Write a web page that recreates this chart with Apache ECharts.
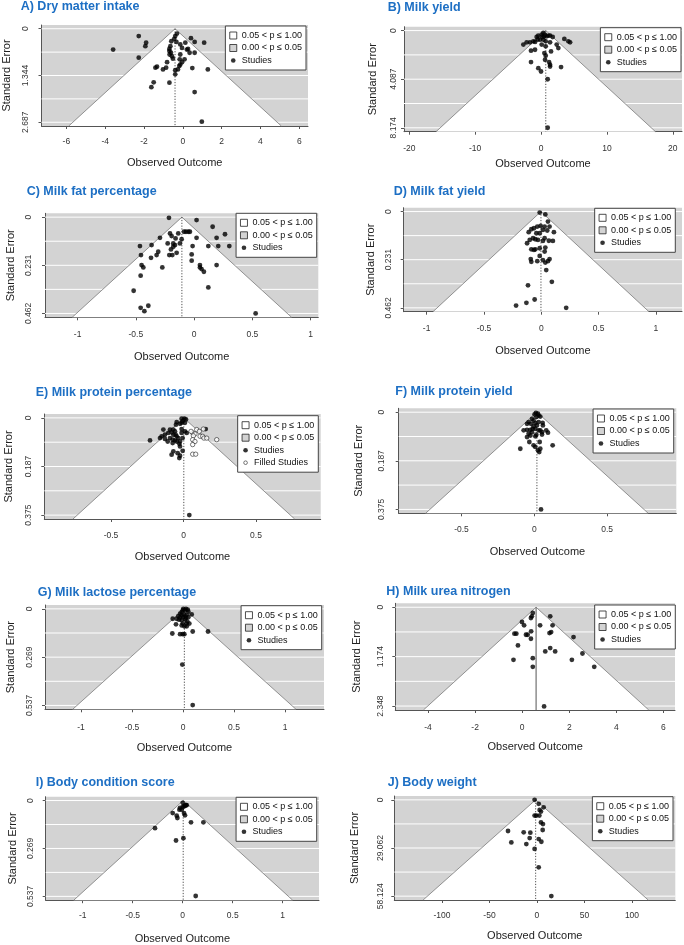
<!DOCTYPE html>
<html><head><meta charset="utf-8">
<script src="https://cdn.jsdelivr.net/npm/echarts@6/dist/echarts.min.js"></script>
<style>html,body{margin:0;padding:0;background:#fff}#c{width:684px;height:945px}</style>
</head><body><div id="c"></div>
<script>
// ---------- DATA ----------
const panelTitles = ['A) Dry matter intake','B) Milk yield','C) Milk fat percentage','D) Milk fat yield','E) Milk protein percentage','F) Milk protein yield','G) Milk lactose percentage','H) Milk urea nitrogen','I) Body condition score','J) Body weight'];
const pooledEstimates = [-0.40, 0.72, -0.105, -0.003, 0.002, 0.018, 0.013, 0.59, 0.005, -1.4];
const xTicks = [[-6,-4,-2,0,2,4,6],[-20,-10,0,10,20],[-1,-0.5,0,0.5,1],[-1,-0.5,0,0.5,1],[-0.5,0,0.5],[-0.5,0,0.5],[-1,-0.5,0,0.5,1],[-4,-2,0,2,4,6],[-1,-0.5,0,0.5,1],[-100,-50,0,50,100]];
const yTickValues = [[0,1.3435,2.687],[0,4.087,8.174],[0,0.231,0.462],[0,0.231,0.462],[0,0.1875,0.375],[0,0.1875,0.375],[0,0.2685,0.537],[0,1.174,2.348],[0,0.2685,0.537],[0,29.062,58.124]];
const yTickLabels = [['0','1.344','2.687'],['0','4.087','8.174'],['0','0.231','0.462'],['0','0.231','0.462'],['0','0.187','0.375'],['0','0.187','0.375'],['0','0.269','0.537'],['0','1.174','2.348'],['0','0.269','0.537'],['0','29.062','58.124']];
const solidCenterLine = [false,false,false,false,false,false,false,true,false,false];

const studiesA = [[-0.30,0.14],[-0.39,0.21],[-0.44,0.29],[-0.33,0.38],[-0.59,0.36],[-0.64,0.50],[-0.69,0.58],[-0.69,0.64],[-0.61,0.69],[-0.56,0.79],[-0.51,0.86],[-0.68,0.74],[-0.13,0.45],[-0.04,0.55],[0.13,0.40],[0.42,0.27],[0.61,0.38],[1.10,0.40],[0.21,0.60],[0.27,0.58],[0.35,0.69],[0.61,0.69],[-0.13,0.74],[-0.16,0.88],[0.09,0.88],[-0.04,0.96],[-0.13,1.03],[-0.18,1.07],[-0.25,1.17],[-0.39,1.19],[-0.39,1.31],[-0.81,0.96],[-0.86,1.12],[-1.02,1.17],[-1.33,1.09],[-1.41,1.12],[-0.69,1.55],[-1.50,1.54],[-1.62,1.68],[0.49,1.13],[1.29,1.17],[0.61,1.82],[0.98,2.67],[-2.27,0.21],[-1.89,0.40],[-1.93,0.50],[-3.59,0.60],[-2.27,0.83]];
const studiesB = [[-2.68,1.18],[-2.18,0.99],[-1.67,0.99],[-1.16,0.90],[-0.66,0.54],[-0.41,0.42],[0.10,0.34],[0.35,0.20],[0.61,0.34],[0.86,0.48],[1.11,0.42],[1.37,0.42],[1.77,0.54],[-0.15,0.76],[0.35,0.76],[0.71,0.90],[1.37,0.99],[0.10,1.18],[0.71,1.32],[1.52,1.75],[2.38,1.18],[2.63,1.47],[3.54,0.70],[4.15,0.90],[4.41,0.99],[-1.52,1.69],[-0.91,1.61],[0.51,1.89],[0.71,2.11],[0.61,2.45],[-1.52,2.65],[1.22,2.65],[1.37,2.87],[1.37,3.02],[3.04,3.07],[-0.41,3.16],[0.00,3.44],[1.01,4.09],[1.01,8.17],[-0.5,0.75],[0.2,0.55],[-0.9,0.95],[0.45,0.5]];
const studiesC = [[-0.216,0.003],[0.021,0.014],[0.159,0.046],[0.265,0.082],[0.193,0.099],[-0.087,0.070],[-0.070,0.070],[-0.050,0.070],[-0.036,0.070],[-0.136,0.078],[-0.207,0.078],[-0.193,0.091],[-0.159,0.102],[-0.293,0.099],[0.021,0.099],[-0.107,0.106],[-0.122,0.126],[-0.227,0.126],[-0.179,0.126],[-0.164,0.134],[-0.179,0.142],[-0.199,0.155],[-0.150,0.171],[-0.187,0.182],[-0.213,0.182],[-0.465,0.139],[-0.365,0.134],[-0.308,0.166],[-0.322,0.182],[-0.370,0.195],[-0.456,0.182],[-0.013,0.139],[0.122,0.139],[0.207,0.139],[0.302,0.139],[-0.021,0.179],[-0.021,0.209],[0.050,0.230],[0.050,0.241],[0.064,0.249],[0.084,0.262],[0.193,0.230],[-0.451,0.230],[-0.436,0.241],[-0.273,0.241],[-0.459,0.281],[0.122,0.337],[-0.519,0.353],[-0.459,0.435],[-0.427,0.451],[-0.393,0.425],[0.528,0.462]];
const studiesD = [[-0.014,0.005],[0.035,0.014],[0.058,0.048],[-0.006,0.069],[-0.035,0.072],[-0.064,0.080],[-0.087,0.085],[0.029,0.072],[0.072,0.072],[0.014,0.088],[0.052,0.091],[0.110,0.099],[-0.110,0.099],[-0.043,0.104],[-0.014,0.104],[-0.072,0.128],[-0.052,0.133],[-0.101,0.136],[-0.124,0.152],[-0.029,0.136],[0.014,0.141],[0.029,0.128],[0.066,0.140],[0.101,0.141],[-0.087,0.181],[-0.052,0.181],[-0.064,0.184],[-0.014,0.176],[0.035,0.173],[0.029,0.192],[-0.092,0.228],[-0.087,0.241],[-0.035,0.238],[-0.014,0.213],[0.014,0.233],[0.035,0.245],[0.058,0.238],[0.072,0.228],[0.043,0.281],[0.092,0.337],[-0.116,0.354],[-0.058,0.422],[-0.130,0.438],[-0.220,0.451],[0.217,0.462]];
const studiesE = [[-0.013,0.003],[0.006,0.003],[0.017,0.006],[-0.006,0.013],[-0.013,0.019],[0.010,0.019],[-0.024,0.023],[-0.047,0.016],[-0.052,0.026],[-0.013,0.043],[-0.139,0.045],[-0.093,0.045],[-0.070,0.045],[-0.059,0.052],[-0.082,0.056],[-0.105,0.058],[-0.128,0.065],[-0.151,0.071],[-0.162,0.078],[-0.070,0.065],[-0.054,0.065],[-0.047,0.071],[-0.036,0.078],[-0.093,0.078],[-0.075,0.084],[-0.059,0.087],[-0.047,0.091],[-0.024,0.091],[-0.231,0.087],[0.010,0.052],[0.022,0.058],[-0.013,0.058],[-0.024,0.110],[-0.006,0.127],[-0.070,0.129],[-0.040,0.136],[-0.024,0.146],[-0.029,0.155],[-0.082,0.142],[0.040,0.375],[-0.109,0.091],[-0.128,0.081],[-0.075,0.097],[-0.029,0.100],[-0.006,0.078],[0.153,0.043]];
const filledE = [[0.091,0.045],[0.109,0.052],[0.063,0.058],[0.079,0.062],[0.052,0.052],[0.068,0.069],[0.114,0.071],[0.132,0.071],[0.141,0.078],[0.160,0.078],[0.229,0.084],[0.063,0.084],[0.079,0.091],[0.063,0.103],[0.063,0.140],[0.084,0.140],[0.137,0.043]];
const studiesF = [[0.011,0.003],[0.025,0.006],[0.002,0.009],[0.030,0.013],[0.041,0.017],[0.014,0.019],[-0.016,0.026],[-0.005,0.032],[-0.039,0.038],[-0.050,0.045],[-0.023,0.045],[0.007,0.042],[0.030,0.038],[0.057,0.041],[0.018,0.051],[-0.005,0.055],[-0.073,0.070],[-0.050,0.068],[-0.027,0.068],[0.007,0.064],[0.030,0.070],[0.041,0.070],[0.053,0.077],[-0.016,0.077],[-0.039,0.083],[-0.050,0.096],[-0.027,0.090],[0.007,0.093],[0.053,0.086],[0.082,0.070],[0.094,0.079],[0.126,0.128],[-0.034,0.115],[0.037,0.115],[-0.005,0.128],[0.007,0.134],[0.025,0.147],[0.041,0.141],[0.034,0.154],[-0.096,0.141],[0.046,0.375],[0.014,0.087],[0.059,0.051],[-0.011,0.064]];
const studiesG = [[0.003,0.000],[0.029,0.000],[0.046,0.004],[-0.003,0.009],[0.020,0.009],[0.052,0.015],[-0.029,0.027],[-0.013,0.037],[0.013,0.033],[0.036,0.033],[-0.046,0.040],[-0.029,0.049],[0.003,0.046],[0.029,0.049],[0.052,0.046],[0.085,0.031],[-0.101,0.055],[-0.062,0.055],[-0.013,0.064],[0.020,0.059],[0.042,0.070],[0.062,0.082],[-0.069,0.086],[-0.013,0.092],[0.013,0.097],[0.036,0.097],[-0.003,0.082],[-0.105,0.137],[-0.029,0.141],[-0.003,0.141],[0.013,0.141],[0.095,0.126],[0.245,0.126],[-0.007,0.310],[0.095,0.535],[-0.039,0.060],[0.036,0.082],[-0.013,0.018]];
const studiesH = [[0.45,0.135],[0.41,0.215],[0.37,0.255],[-0.01,0.350],[0.08,0.430],[0.76,0.430],[1.19,0.215],[1.29,0.430],[1.23,0.589],[1.16,0.613],[0.38,0.573],[0.16,0.653],[0.23,0.653],[-0.33,0.629],[-0.25,0.629],[0.37,0.748],[2.18,0.709],[-0.18,0.908],[1.19,0.971],[0.98,1.051],[1.40,1.051],[2.56,1.099],[-0.37,1.250],[0.45,1.210],[2.11,1.250],[0.45,1.417],[3.06,1.417],[0.93,2.357]];
const studiesI = [[0.000,0.013],[0.023,0.028],[0.033,0.026],[-0.027,0.041],[-0.010,0.051],[-0.033,0.051],[0.000,0.036],[0.017,0.032],[-0.100,0.070],[-0.060,0.085],[-0.053,0.098],[0.013,0.070],[0.023,0.083],[0.083,0.122],[0.207,0.122],[-0.277,0.155],[-0.067,0.224],[0.007,0.211],[0.130,0.535],[0.040,0.026]];
const studiesJ = [[-2.5,0.0],[1.8,2.4],[7.0,4.5],[2.8,6.1],[4.2,7.1],[-2.5,9.5],[-0.7,9.5],[2.5,9.5],[4.2,13.6],[6.3,14.6],[6.0,18.2],[-30.5,18.8],[-14.0,19.6],[-7.0,19.8],[-7.7,23.1],[1.8,23.7],[4.6,25.3],[-27.0,25.7],[-11.2,26.7],[-2.5,29.6],[1.8,40.7],[15.1,58.1]];
const studies = [studiesA,studiesB,studiesC,studiesD,studiesE,studiesF,studiesG,studiesH,studiesI,studiesJ];

// ---------- LAYOUT (pixels) ----------
const layout = [
 {grid:[40.7,25,267.3,101],   x:[-7.28,6.45],   title:[20.7,0],     legend:[378,26],    yLab:11.7, yName:29.5, xLab:11,   xName:31.5},
 {grid:[404,26.7,278,105],    x:[-20.8,21.4],   title:[387.7,1],    legend:[3,27.7],    yLab:6,    yName:25.5, xLab:12,   xName:26.8},
 {grid:[45,213.3,273.3,104],  x:[-1.28,1.066],  title:[26.7,184.7], legend:[367.3,213.3], yLab:11.7, yName:28.5, xLab:12.5, xName:34},
 {grid:[403.7,207.7,278.3,104], x:[-1.20,1.227], title:[393.7,184.7], legend:[8.7,208.3], yLab:11, yName:27, xLab:12, xName:33.8},
 {grid:[44.3,414,276.4,105],  x:[-0.96,0.946],  title:[35.7,386.3], legend:[365.7,415.7], yLab:11, yName:30, xLab:12, xName:32.5},
 {grid:[398.7,408.3,277.6,105], x:[-0.931,0.975], title:[395.3,384.7], legend:[10.3,409], yLab:12.7, yName:34.5, xLab:12, xName:33},
 {grid:[45,605,279,104.3],    x:[-1.353,1.382], title:[37.7,585.7], legend:[362.3,605.7], yLab:11, yName:28.5, xLab:13.5, xName:33},
 {grid:[395.3,603.3,279.7,106.7], x:[-5.39,6.49], title:[386.3,584.7], legend:[8.7,605], yLab:10, yName:33, xLab:13, xName:31.2},
 {grid:[45.7,796.7,273.3,104], x:[-1.37,1.363], title:[35.7,776.3], legend:[367.3,797.3], yLab:10.7, yName:27.5, xLab:11, xName:32.8},
 {grid:[394.3,796,281,104],   x:[-150.2,145.6], title:[387.7,775.7], legend:[11,796.7], yLab:9, yName:33.5, xLab:11.5, xName:30.5}
];

const WHITE_REGION = '0.05 < p \u2264 1.00';
const GREY_REGION = '0.00 < p \u2264 0.05';
const dotIcon = 'path://M0,0M10,10M8.3,5A3.3,3.3,0,1,1,1.7,5A3.3,3.3,0,1,1,8.3,5Z';
const ringIcon = 'path://M0,0M10,10M7.6,5A2.6,2.6,0,1,1,2.4,5A2.6,2.6,0,1,1,7.6,5Z';
const FONT = '"Liberation Sans", Arial, sans-serif';

const grids=[], xAxes=[], yAxes=[], series=[], titles=[], legends=[];
panelTitles.forEach((t,i)=>{
  const L = layout[i];
  const yt = yTickValues[i];
  const m = yt[yt.length-1];
  const yMin = -0.04*m, yMax = 1.04*m;
  const gridValues = [yt[0], (yt[0]+yt[1])/2, yt[1], (yt[1]+yt[2])/2, yt[2]];
  grids.push({left:L.grid[0], top:L.grid[1], width:L.grid[2], height:L.grid[3], show:true, backgroundColor:'#d3d3d3', borderWidth:0});
  titles.push({text:t, left:L.title[0], top:L.title[1], padding:0,
    textStyle:{fontSize:12.5, fontWeight:'bold', color:'#1d6fc4', fontFamily:FONT}});
  xAxes.push({gridIndex:i, type:'value', min:L.x[0], max:L.x[1],
    axisLine:{show:true, onZero:false, lineStyle:{color:'#555', width:1}},
    axisTick:{show:true, length:3, customValues:xTicks[i], lineStyle:{color:'#555'}},
    axisLabel:{customValues:xTicks[i], fontSize:8.5, color:'#333', margin:L.xLab, fontFamily:FONT,
      formatter:v=>String(+(+v).toFixed(6))},
    splitLine:{show:false},
    name:'Observed Outcome', nameLocation:'middle', nameGap:L.xName,
    nameTextStyle:{fontSize:11, color:'#222', fontFamily:FONT}});
  yAxes.push({gridIndex:i, type:'value', inverse:true, min:yMin, max:yMax,
    axisLine:{show:true, onZero:false, lineStyle:{color:'#555', width:1}},
    axisTick:{show:true, length:3, customValues:yt, lineStyle:{color:'#555'}},
    axisLabel:{customValues:yt, rotate:90, fontSize:8.5, color:'#333', margin:L.yLab, fontFamily:FONT,
      formatter:v=>{let k=0,b=1e9; yt.forEach((q,j)=>{const d=Math.abs(q-v); if(d<b){b=d;k=j;}}); return yTickLabels[i][k];}},
    splitLine:{show:false},
    name:'Standard Error', nameLocation:'middle', nameGap:L.yName, nameRotate:90,
    nameTextStyle:{fontSize:11, color:'#222', fontFamily:FONT}});
  // white horizontal reference lines over the grey region
  series.push({type:'custom', name:GREY_REGION, xAxisIndex:i, yAxisIndex:i, silent:true, z:1,
    data:gridValues.map(v=>[pooledEstimates[i], v]),
    renderItem:(params, api)=>{
      const y = api.coord([api.value(0), api.value(1)])[1];
      const cs = params.coordSys;
      return {type:'line', shape:{x1:cs.x, y1:y, x2:cs.x+cs.width, y2:y}, style:{stroke:'#ffffff', lineWidth:1}};
    }});
  // funnel (pseudo-confidence region) and centre line
  series.push({type:'custom', name:WHITE_REGION, xAxisIndex:i, yAxisIndex:i, silent:true, z:2,
    data:[[pooledEstimates[i], yMax]],
    renderItem:(params, api)=>{
      const c = api.value(0), s = api.value(1);
      const apex = api.coord([c, 0]);
      const bl = api.coord([c-1.96*s, s]);
      const br = api.coord([c+1.96*s, s]);
      const bc = api.coord([c, s]);
      return {type:'group', children:[
        {type:'polygon', shape:{points:[bl, apex, br]}, style:{fill:'#ffffff'}},
        {type:'polyline', shape:{points:[bl, apex, br]}, style:{stroke:'#7a7a7a', lineWidth:0.8, fill:null}},
        {type:'line', shape:{x1:apex[0], y1:apex[1], x2:bc[0], y2:bc[1]},
          style:solidCenterLine[i] ? {stroke:'#555', lineWidth:1} : {stroke:'#222', lineWidth:0.8, lineDash:[1.2,1.6]}}
      ]};
    }});
  series.push({type:'scatter', name:'Studies', xAxisIndex:i, yAxisIndex:i, z:3,
    symbol:'circle', symbolSize:4.8, itemStyle:{color:'#000'}, data:studies[i]});
  const legendData = [
    {name:WHITE_REGION, icon:'rect', itemStyle:{color:'#ffffff', borderColor:'#222', borderWidth:0.8}},
    {name:GREY_REGION, icon:'rect', itemStyle:{color:'#d3d3d3', borderColor:'#222', borderWidth:0.8}},
    {name:'Studies', icon:dotIcon, itemStyle:{color:'#000', borderWidth:0}}
  ];
  if (i === 4) {
    series.push({type:'scatter', name:'Filled Studies', xAxisIndex:i, yAxisIndex:i, z:3,
      symbol:'circle', symbolSize:4.4, itemStyle:{color:'#fff', borderColor:'#111', borderWidth:0.7}, data:filledE});
    legendData.push({name:'Filled Studies', icon:ringIcon, itemStyle:{color:'#fff', borderColor:'#111', borderWidth:0.7}});
  }
  legends.push({right:L.legend[0], top:L.legend[1], orient:'vertical', align:'left',
    backgroundColor:'#fff', borderColor:'#444', borderWidth:1, borderRadius:0,
    padding:[5,4,5,4], itemGap:3.5, itemWidth:7, itemHeight:7, selectedMode:false,
    textStyle:{fontSize:9, color:'#111', fontFamily:FONT}, data:legendData});
});

const chart = echarts.init(document.getElementById('c'), null, {width:684, height:945});
chart.setOption({
  animation:false,
  backgroundColor:'#fff',
  textStyle:{fontFamily:FONT},
  title:titles, legend:legends, grid:grids, xAxis:xAxes, yAxis:yAxes, series:series
});
</script>
</body></html>
